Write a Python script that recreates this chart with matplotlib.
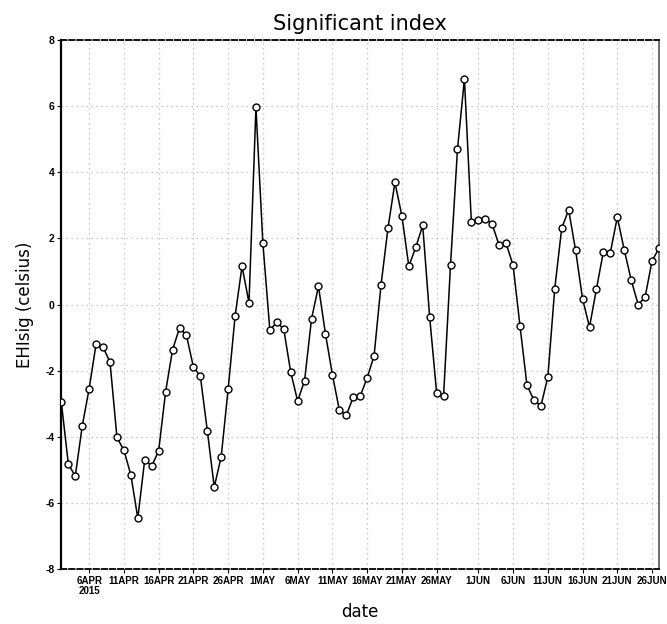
import matplotlib
matplotlib.use('Agg')
import numpy as np
import pandas as pd
import matplotlib.pyplot as plt

# daily EHIsig values, 2 Apr 2015 .. 27 Jun 2015
start = '2015-04-02'
ehisig = [-2.96, -4.82, -5.19, -3.68, -2.54, -1.19, -1.29, -1.74, -4.02, -4.41,
          -5.15, -6.46, -4.69, -4.89, -4.42, -2.64, -1.37, -0.71, -0.93, -1.89,
          -2.17, -3.81, -5.52, -4.60, -2.56, -0.35, 1.16, 0.05, 5.96, 1.85,
          -0.77, -0.54, -0.74, -2.04, -2.92, -2.30, -0.43, 0.55, -0.88, -2.12,
          -3.19, -3.35, -2.80, -2.77, -2.22, -1.55, 0.59, 2.31, 3.69, 2.68,
          1.16, 1.73, 2.39, -0.38, -2.67, -2.77, 1.20, 4.69, 6.82, 2.49,
          2.55, 2.60, 2.42, 1.79, 1.85, 1.19, -0.65, -2.44, -2.89, -3.07,
          -2.20, 0.48, 2.31, 2.86, 1.64, 0.17, -0.68, 0.47, 1.60, 1.57,
          2.64, 1.65, 0.74, 0.00, 0.22, 1.32, 1.70]
dates = pd.date_range(start, periods=len(ehisig), freq='D')

tick_days = [1, 6, 11, 16, 21, 26]
tick_dates = [d for d in dates if d.day in tick_days]
tick_labels = [f'{d.day}{d.strftime("%b").upper()}' for d in tick_dates]
tick_labels[0] = tick_labels[0] + '\n2015'
yticks = [-8, -6, -4, -2, 0, 2, 4, 6, 8]

fig = plt.figure(figsize=(6.67, 6.24), dpi=100)
ax = fig.add_axes([0.092, 0.088, 0.896, 0.848])

ax.plot(dates, ehisig, color='black', linewidth=1.1, marker='o', markersize=5,
        markerfacecolor='white', markeredgecolor='black', markeredgewidth=1.0,
        zorder=3)

ax.set_xlim(dates[0], dates[-1])
ax.set_ylim(-8, 8)
ax.set_xticks(tick_dates)
ax.set_xticklabels(tick_labels, fontsize=7, fontweight='bold',
                   family='Liberation Sans', linespacing=0.95)
ax.set_yticks(yticks)
ax.set_yticklabels([str(v) for v in yticks], fontsize=7.5, fontweight='bold',
                   family='Liberation Sans')
ax.tick_params(axis='both', direction='out', length=3, width=0.8, pad=2)

ax.grid(True, color='#b8b8b8', linestyle=(0, (1, 3)), linewidth=0.9)

ax.spines['left'].set_linewidth(1.6)
ax.spines['right'].set_color('#555555')
ax.spines['right'].set_linewidth(1.2)
for s in ('top', 'bottom'):
    ax.spines[s].set_linestyle((0, (3, 1.5)))
    ax.spines[s].set_linewidth(1.3)

ax.set_title('Significant index', fontsize=15, pad=7)
ax.set_ylabel('EHIsig (celsius)', fontsize=12, labelpad=8)
ax.set_xlabel('date', fontsize=12, labelpad=5)

plt.savefig('out.png', dpi=100)
